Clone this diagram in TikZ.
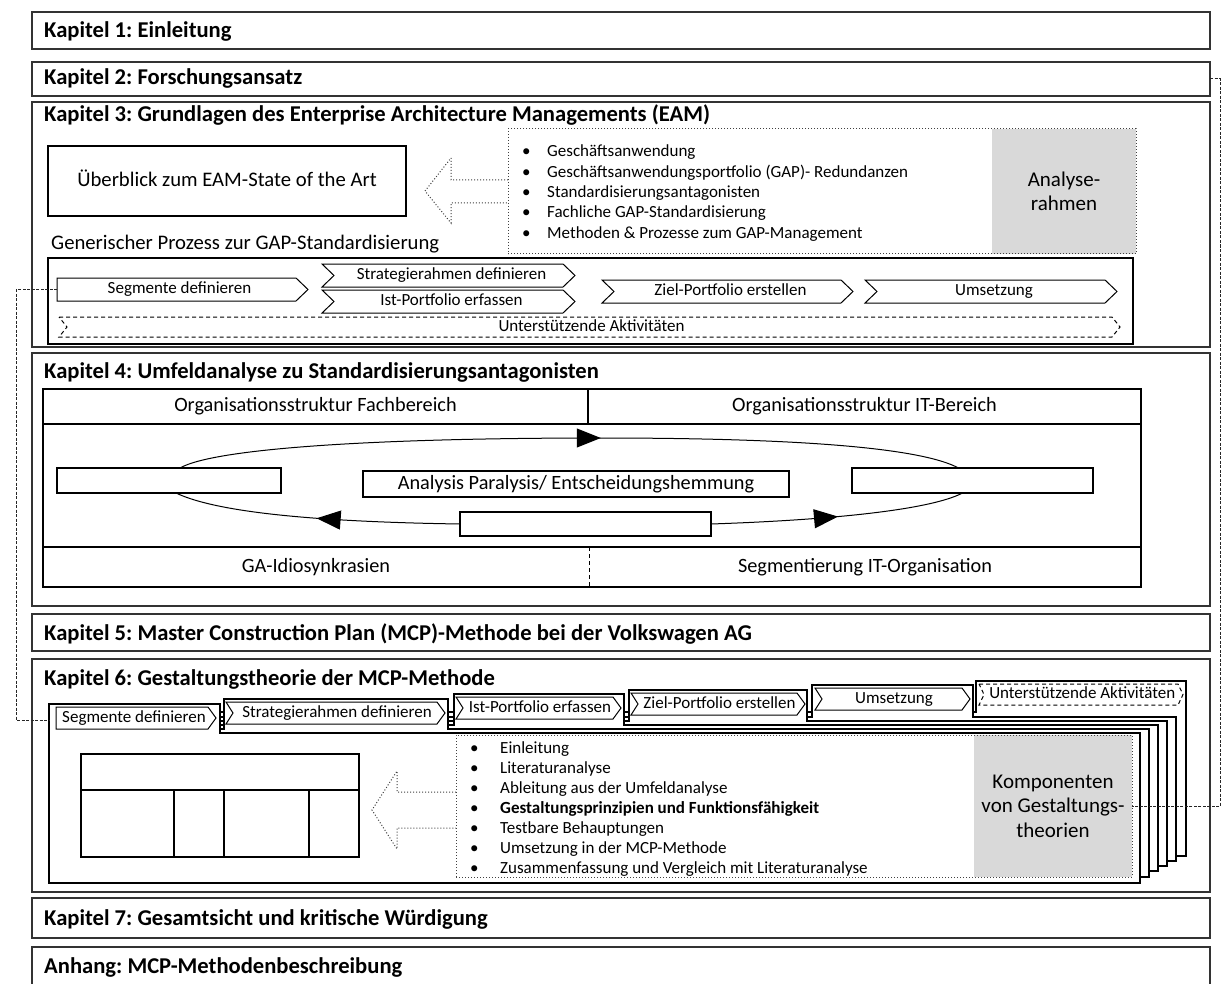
\documentclass[tikz,border=0pt]{standalone}
\usepackage{fontspec}
\setmainfont{Carlito}
\usetikzlibrary{arrows.meta,decorations.markings}
\frenchspacing

% chevron: [style]{name}{x1}{y1}{x2}{y2}{notch depth}{point depth}{text}
\newcommand{\chevbox}[9][]{%
  \draw[chevline,#1] (#3,#4) -- ({#5-#8},#4) -- (#5,{(#4+#6)/2}) -- ({#5-#8},#6) -- (#3,#6) -- ({#3+#7},{(#4+#6)/2}) -- cycle;
  \coordinate (#2-w) at (#3,{(#4+#6)/2});
  \node[chevtext] (#2) at ({(#3+#5)/2+#7/2-#8/4},{(#4+#6)/2}) {#9};
}

\tikzset{
  chap/.style={draw=black!80, line width=1.3pt, inner sep=0pt, outer sep=0pt, anchor=north west},
  ktitle/.style={font=\fontsize{22.6}{26}\selectfont\bfseries, inner sep=0pt, anchor=base west},
  frame/.style={draw=black, line width=1.1pt, inner sep=0pt, outer sep=0pt, anchor=north west},
  bigtext/.style={font=\fontsize{20.7}{24}\selectfont, text height=14.5pt, text depth=4pt},
  k4text/.style={font=\fontsize{20.3}{24}\selectfont, text height=14pt, text depth=4pt},
  smalltext/.style={font=\fontsize{17}{20}\selectfont},
  chevtext/.style={smalltext, inner sep=0pt, text height=11.5pt, text depth=3.5pt},
  chevline/.style={draw=black, line width=1pt, fill=white},
  dotframe/.style={draw=black!75, line width=1pt, dotted, inner sep=0pt, outer sep=0pt, anchor=north west},
  shade/.style={fill=black!15, inner sep=0pt, outer sep=0pt, anchor=north west, align=center, font=\fontsize{21}{24.5}\selectfont},
  link/.style={draw=black!85, line width=1pt, dash pattern=on 3pt off 1.5pt},
  card/.style={draw=black, line width=1.2pt, fill=white},
  tcell/.style={draw=black, line width=1.7pt, inner sep=0pt, outer sep=0pt, anchor=north west},
  bulletitem/.style={smalltext, inner sep=0pt, anchor=base west},
  cyclearc/.style={draw=black, line width=1pt},
  midtip/.style={postaction={decorate}, decoration={markings, mark=at position #1 with {\arrow{Triangle[length=24pt,width=19pt]}}}},
  hollowarrow/.style={draw=black!75, line width=1pt, dotted},
  dashedchev/.style={dash pattern=on 4pt off 3pt},
}

\begin{document}
\begin{tikzpicture}[x=1pt,y=-1pt]
\useasboundingbox (0,0) rectangle (1225,984);
\fill[white] (0,0) rectangle (1225,984);

% chapter frames and titles
\node[chap, minimum width=1178pt, minimum height=37pt] (k1) at (32,12) {};
\node[ktitle] (k1t) at (44,38) {Kapitel 1: Einleitung};
\node[chap, minimum width=1178pt, minimum height=34pt] (k2) at (32,62) {};
\node[ktitle] (k2t) at (44,85) {Kapitel 2: Forschungsansatz};
\node[chap, minimum width=1178pt, minimum height=245pt] (k3) at (32,102) {};
\node[ktitle] (k3t) at (44,122) {Kapitel 3: Grundlagen des Enterprise Architecture Managements (EAM)};
\node[chap, minimum width=1178pt, minimum height=253pt] (k4) at (32,353) {};
\node[ktitle] (k4t) at (44,378) {Kapitel 4: Umfeldanalyse zu Standardisierungsantagonisten};
\node[chap, minimum width=1178pt, minimum height=37pt] (k5) at (32,614) {};
\node[ktitle] (k5t) at (44,640) {Kapitel 5: Master Construction Plan (MCP)-Methode bei der Volkswagen AG};
\node[chap, minimum width=1178pt, minimum height=233pt] (k6) at (32,659) {};
\node[ktitle] (k6t) at (44,685) {Kapitel 6: Gestaltungstheorie der MCP-Methode};
\node[chap, minimum width=1178pt, minimum height=40pt] (k7) at (32,898) {};
\node[ktitle] (k7t) at (44,925) {Kapitel 7: Gesamtsicht und kritische Würdigung};
\node[chap, minimum width=1178pt, minimum height=40pt] (anh) at (32,947) {};
\node[ktitle] (anht) at (44,973) {Anhang: MCP-Methodenbeschreibung};

% ---- Kapitel 3 ----
\node[shade, minimum width=144pt, minimum height=125pt] (ana) at (992,129) {Analyse-\\rahmen};
\node[dotframe, minimum width=628pt, minimum height=125pt] (anabox) at (508,129) {};
\foreach \txt [count=\i] in {Geschäftsanwendung, Geschäftsanwendungsportfolio (GAP)- Redundanzen, Standardisierungsantagonisten, Fachliche GAP-Standardisierung, Methoden \& Prozesse zum GAP-Management} {
  \node[bulletitem] (ka\i) at (522,{157+20.3*(\i-1)}) {•};
  \node[bulletitem] (kb\i) at (547,{157+20.3*(\i-1)}) {\txt};
}
\node[frame, bigtext, minimum width=358pt, minimum height=70pt] (ueb) at (48,146) {Überblick zum EAM-State of the Art};
\draw[hollowarrow] (508,180) -- (451,180) -- (451,158) -- (425,191) -- (451,223) -- (451,203) -- (508,203);

\node[bigtext, inner sep=0pt, anchor=base west] (gen) at (51,250) {Generischer Prozess zur GAP-Standardisierung};
\node[frame, minimum width=1085pt, minimum height=86pt] (proc) at (48,258) {};
\chevbox{segA}{57}{278}{308}{301}{0}{12}{Segmente definieren}
\chevbox{stratA}{322}{264}{575}{287}{12}{12}{Strategierahmen definieren}
\chevbox{istA}{322}{290}{575}{313}{12}{12}{Ist-Portfolio erfassen}
\chevbox{zielA}{602}{280}{853}{303}{12}{12}{Ziel-Portfolio erstellen}
\chevbox{umsA}{865}{280}{1117}{303}{12}{12}{Umsetzung}
\chevbox[dashedchev]{suppA}{59}{317}{1120}{337}{8}{8}{Unterstützende Aktivitäten}

% ---- Kapitel 4 ----
\node[frame, line width=1.5pt, minimum width=1098pt, minimum height=198pt] (envbox) at (43,389) {};
\node[frame, k4text, minimum width=545pt, minimum height=35pt] (orgF) at (43,389) {Organisationsstruktur Fachbereich};
\node[frame, k4text, minimum width=553pt, minimum height=35pt] (orgIT) at (588,389) {Organisationsstruktur IT-Bereich};
\node[frame, line width=1.5pt, minimum width=1098pt, minimum height=40pt] (lowrow) at (43,547) {};
\node[k4text, inner sep=0pt] (gaid) at (316,567) {GA-Idiosynkrasien};
\node[k4text, inner sep=0pt] (segit) at (865,567) {Segmentierung IT-Organisation};
\draw[black, line width=1pt, dash pattern=on 4pt off 3pt] (589,547) -- (589,587);

\node[frame, minimum width=224pt, minimum height=25pt] (lbox) at (57,468) {};
\node[frame, k4text, minimum width=426pt, minimum height=26pt] (para) at (363,471) {Analysis Paralysis/ Entscheidungshemmung};
\node[frame, minimum width=251pt, minimum height=24pt] (bbox) at (460,512) {};
\node[frame, minimum width=241pt, minimum height=25pt] (rbox) at (852,468) {};

\draw[cyclearc, midtip=0.54] ([xshift=11pt]lbox.north) .. controls (215,448) and (380,438) .. (600,438) .. controls (820,438) and (925,450) .. ([xshift=-14pt]rbox.north);
\draw[cyclearc, midtip=0.5] (bbox.west) .. controls (330,522) and (220,514) .. ([xshift=7pt]lbox.south);
\draw[cyclearc, midtip=0.5] (bbox.east) .. controls (830,520) and (930,510) .. ([xshift=-10pt]rbox.south);

% ---- Kapitel 6: stacked cards, back to front ----
\filldraw[card] (49,712) -- (976,712) -- (976,681) -- (1186,681) -- (1186,856) -- (49,856) -- cycle;
\filldraw[card] (49,717) -- (812,717) -- (812,685) -- (973,685) -- (973,717) -- (1176,717) -- (1176,861) -- (49,861) -- cycle;
\filldraw[card] (49,721) -- (629,721) -- (629,690) -- (807,690) -- (807,721) -- (1167,721) -- (1167,866) -- (49,866) -- cycle;
\filldraw[card] (49,725) -- (454,725) -- (454,694) -- (624,694) -- (624,725) -- (1158,725) -- (1158,871) -- (49,871) -- cycle;
\filldraw[card] (49,729) -- (224,729) -- (224,699) -- (448,699) -- (448,729) -- (1149,729) -- (1149,877) -- (49,877) -- cycle;
\filldraw[card] (49,704) -- (220,704) -- (220,733) -- (1140,733) -- (1140,883) -- (49,883) -- cycle;
\coordinate (tabedge) at (49,720);

% front card content
\node[tcell, minimum width=278pt, minimum height=36pt] (thead) at (81,754) {};
\node[tcell, minimum width=93pt, minimum height=67pt] (tc1) at (81,790) {};
\node[tcell, minimum width=50pt, minimum height=67pt] (tc2) at (174,790) {};
\node[tcell, minimum width=85pt, minimum height=67pt] (tc3) at (224,790) {};
\node[tcell, minimum width=50pt, minimum height=67pt] (tc4) at (309,790) {};

\node[shade, minimum width=158pt, minimum height=142pt] (komp) at (974,735) {Komponenten\\von Gestaltungs-\\theorien};
\node[dotframe, minimum width=676pt, minimum height=142pt] (gtbox) at (456,735) {};
\draw[hollowarrow] (456,792) -- (397,792) -- (397,771) -- (372,810) -- (397,849) -- (397,828) -- (456,828);
\foreach \txt [count=\i] in {Einleitung, Literaturanalyse, Ableitung aus der Umfeldanalyse, \textbf{Gestaltungsprinzipien und Funktionsfähigkeit}, Testbare Behauptungen, Umsetzung in der MCP-Methode, Zusammenfassung und Vergleich mit Literaturanalyse} {
  \node[bulletitem] (ga\i) at (470,{753+20*(\i-1)}) {•};
  \node[bulletitem] (gb\i) at (500,{753+20*(\i-1)}) {\txt};
}

% tab labels
\chevbox{tabA}{56}{707}{216}{729}{0}{8}{Segmente definieren}
\chevbox{tabB}{226}{702}{445}{724}{7}{8}{Strategierahmen definieren}
\chevbox{tabC}{456}{697}{621}{719}{7}{8}{Ist-Portfolio erfassen}
\chevbox{tabD}{631}{693}{805}{715}{7}{8}{Ziel-Portfolio erstellen}
\chevbox{tabE}{815}{688}{970}{710}{7}{8}{Umsetzung}
\chevbox[dashedchev]{tabF}{979}{684}{1183}{705}{5}{5}{Unterstützende Aktivitäten}

% cross references
\draw[link] (segA-w) -- ++(-41,0) |- (tabedge);
\draw[link] (k2.east) -- ++(10,0) |- (komp.east);
\end{tikzpicture}
\end{document}
